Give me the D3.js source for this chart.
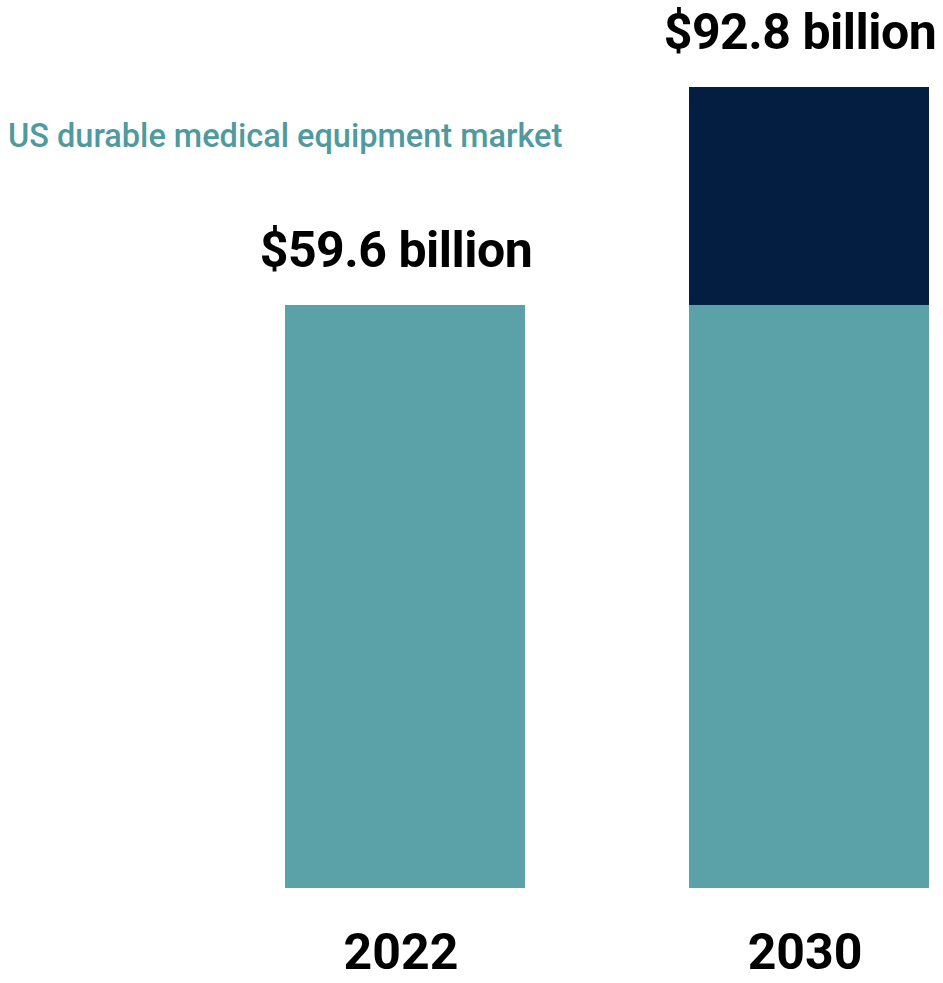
<!DOCTYPE html>
<html>
<head>
<meta charset="utf-8">
<script src="https://cdn.jsdelivr.net/npm/d3@7"></script>
<style>
  html, body { margin: 0; padding: 0; background: #fff; }
  svg { display: block; }
</style>
</head>
<body>
<svg id="chart"></svg>
<script>
// data
const years = ['2022', '2030'];
const baseMarket = [59.6, 59.6];   // teal part
const growth = [0, 33.2];          // navy part added by 2030
const totalLabels = ['$59.6 billion', '$92.8 billion'];
const seriesKeys = ['base', 'growth'];

// the bars in the original do not start at zero, this is where the bottom sits
const scaleFloor = -29.2;

const width = 943, height = 983;
const colors = {base: '#5aa2a8', growth: '#041e42'};

const svg = d3.select('#chart')
    .attr('width', width)
    .attr('height', height);

const rows = years.map((y, i) => ({year: y, base: baseMarket[i], growth: growth[i], label: totalLabels[i]}));
const stacked = d3.stack().keys(seriesKeys)(rows);

const x = d3.scaleBand()
    .domain(years)
    .range([285, 929])
    .paddingInner(0.406)
    .paddingOuter(0);

const y = d3.scaleLinear()
    .domain([scaleFloor, d3.max(rows, d => d.base + d.growth)])
    .range([888, 87]);

svg.append('g')
    .selectAll('g')
    .data(stacked)
    .join('g')
    .attr('fill', d => colors[d.key])
    .selectAll('rect')
    .data(d => d.filter(s => s[1] > s[0]))
    .join('rect')
    .attr('x', d => x(d.data.year))
    .attr('width', x.bandwidth())
    .attr('y', d => y(d[1]))
    .attr('height', d => (d[0] === 0 ? y(scaleFloor) : y(d[0])) - y(d[1]));

// total labels above bars
svg.append('g')
    .selectAll('text')
    .data(rows)
    .join('text')
    .attr('x', d => x(d.year) + x.bandwidth() / 2)
    .attr('dx', -9)
    .attr('y', d => y(d.base + d.growth) - 38)
    .attr('text-anchor', 'middle')
    .attr('font-family', 'Roboto, sans-serif')
    .attr('font-weight', 700)
    .attr('font-size', 50)
    .attr('letter-spacing', -0.5)
    .attr('fill', '#000')
    .text(d => d.label);

// year labels
svg.append('g')
    .selectAll('text')
    .data(rows)
    .join('text')
    .attr('x', d => x(d.year) + x.bandwidth() / 2)
    .attr('dx', -4)
    .attr('y', 969)
    .attr('text-anchor', 'middle')
    .attr('font-family', 'Roboto, sans-serif')
    .attr('font-weight', 700)
    .attr('font-size', 50)
    .attr('fill', '#000')
    .text(d => d.year);

// series title
svg.append('text')
    .attr('x', 8)
    .attr('y', 147)
    .attr('font-family', 'Roboto, sans-serif')
    .attr('font-weight', 500)
    .attr('font-size', 32.5)
    .attr('fill', '#4f9a9f')
    .text('US durable medical equipment market');
</script>
</body>
</html>
